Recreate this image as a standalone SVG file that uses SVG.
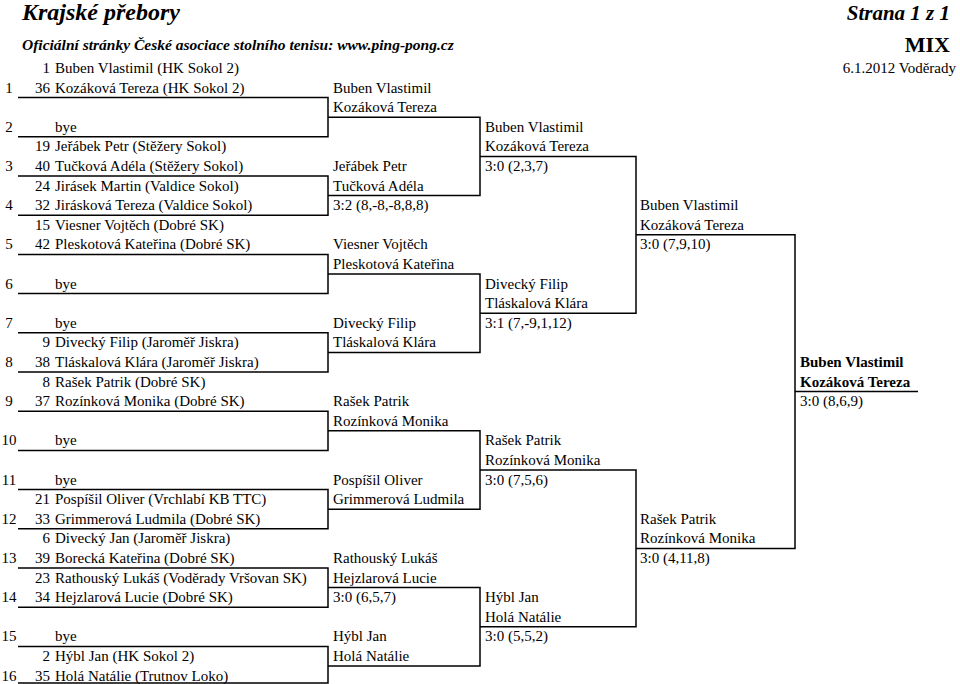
<svg xmlns="http://www.w3.org/2000/svg" width="960" height="684" viewBox="0 0 960 684">
<style>
text{font-family:"Liberation Serif","Times New Roman",serif;font-size:15px;fill:#000}
.n{text-anchor:end}.s{text-anchor:middle}.b{font-weight:bold}
.h{font-weight:bold;font-style:italic}
line,path{stroke:#000;stroke-width:1.5;fill:none}
</style>
<rect width="960" height="684" fill="#fff"/>
<g id="header">
<text x="22" y="20" class="h" style="font-size:24px">Krajské přebory</text>
<text x="22" y="50" class="h" style="font-size:15.5px">Oficiální stránky České asociace stolního tenisu: www.ping-pong.cz</text>
<text x="950" y="20" class="h n" style="font-size:21px">Strana 1 z 1</text>
<text x="950" y="52" class="b n" style="font-size:22px">MIX</text>
<text x="956" y="73" class="n">6.1.2012 Voděrady</text>
</g>
<g id="connectors">
<path d="M18 97.6H328V136.8H18M18 176H328V215.2H18M18 254.4H328V293.6H18M18 332.8H328V372H18M18 411.2H328V450.4H18M18 489.6H328V528.8H18M18 568H328V607.2H18M18 646.4H328V683H18"/>
<path d="M328 117.2H480V195.6H328M328 274H480V352.4H328M328 430.8H480V509.2H328M328 587.6H480V666H328"/>
<path d="M480 156.4H636V313.2H480M480 470H636V626.8H480"/>
<path d="M636 234.8H795V548.4H636"/>
<path d="M795 391.6H918"/>
</g>
<g id="round1">
<text x="50" y="73" class="n">1</text><text x="55" y="73">Buben Vlastimil (HK Sokol 2)</text>
<text x="9" y="92.6" class="s">1</text><text x="50" y="92.6" class="n">36</text><text x="55" y="92.6">Kozáková Tereza (HK Sokol 2)</text>
<text x="9" y="131.8" class="s">2</text><text x="55" y="131.8">bye</text>
<text x="50" y="151.4" class="n">19</text><text x="55" y="151.4">Jeřábek Petr (Stěžery Sokol)</text>
<text x="9" y="171" class="s">3</text><text x="50" y="171" class="n">40</text><text x="55" y="171">Tučková Adéla (Stěžery Sokol)</text>
<text x="50" y="190.6" class="n">24</text><text x="55" y="190.6">Jirásek Martin (Valdice Sokol)</text>
<text x="9" y="210.2" class="s">4</text><text x="50" y="210.2" class="n">32</text><text x="55" y="210.2">Jirásková Tereza (Valdice Sokol)</text>
<text x="50" y="229.8" class="n">15</text><text x="55" y="229.8">Viesner Vojtěch (Dobré SK)</text>
<text x="9" y="249.4" class="s">5</text><text x="50" y="249.4" class="n">42</text><text x="55" y="249.4">Pleskotová Kateřina (Dobré SK)</text>
<text x="9" y="288.6" class="s">6</text><text x="55" y="288.6">bye</text>
<text x="9" y="327.8" class="s">7</text><text x="55" y="327.8">bye</text>
<text x="50" y="347.4" class="n">9</text><text x="55" y="347.4">Divecký Filip (Jaroměř Jiskra)</text>
<text x="9" y="367" class="s">8</text><text x="50" y="367" class="n">38</text><text x="55" y="367">Tláskalová Klára (Jaroměř Jiskra)</text>
<text x="50" y="386.6" class="n">8</text><text x="55" y="386.6">Rašek Patrik (Dobré SK)</text>
<text x="9" y="406.2" class="s">9</text><text x="50" y="406.2" class="n">37</text><text x="55" y="406.2">Rozínková Monika (Dobré SK)</text>
<text x="9" y="445.4" class="s">10</text><text x="55" y="445.4">bye</text>
<text x="9" y="484.6" class="s">11</text><text x="55" y="484.6">bye</text>
<text x="50" y="504.2" class="n">21</text><text x="55" y="504.2">Pospíšil Oliver (Vrchlabí KB TTC)</text>
<text x="9" y="523.8" class="s">12</text><text x="50" y="523.8" class="n">33</text><text x="55" y="523.8">Grimmerová Ludmila (Dobré SK)</text>
<text x="50" y="543.4" class="n">6</text><text x="55" y="543.4">Divecký Jan (Jaroměř Jiskra)</text>
<text x="9" y="563" class="s">13</text><text x="50" y="563" class="n">39</text><text x="55" y="563">Borecká Kateřina (Dobré SK)</text>
<text x="50" y="582.6" class="n">23</text><text x="55" y="582.6">Rathouský Lukáš (Voděrady Vršovan SK)</text>
<text x="9" y="602.2" class="s">14</text><text x="50" y="602.2" class="n">34</text><text x="55" y="602.2">Hejzlarová Lucie (Dobré SK)</text>
<text x="9" y="641.4" class="s">15</text><text x="55" y="641.4">bye</text>
<text x="50" y="661" class="n">2</text><text x="55" y="661">Hýbl Jan (HK Sokol 2)</text>
<text x="9" y="680.6" class="s">16</text><text x="50" y="680.6" class="n">35</text><text x="55" y="680.6">Holá Natálie (Trutnov Loko)</text>
</g>
<g id="round2">
<text x="333" y="92.6">Buben Vlastimil</text><text x="333" y="112.2">Kozáková Tereza</text>
<text x="333" y="171">Jeřábek Petr</text><text x="333" y="190.6">Tučková Adéla</text><text x="333" y="210.2">3:2 (8,-8,-8,8,8)</text>
<text x="333" y="249.4">Viesner Vojtěch</text><text x="333" y="269">Pleskotová Kateřina</text>
<text x="333" y="327.8">Divecký Filip</text><text x="333" y="347.4">Tláskalová Klára</text>
<text x="333" y="406.2">Rašek Patrik</text><text x="333" y="425.8">Rozínková Monika</text>
<text x="333" y="484.6">Pospíšil Oliver</text><text x="333" y="504.2">Grimmerová Ludmila</text>
<text x="333" y="563">Rathouský Lukáš</text><text x="333" y="582.6">Hejzlarová Lucie</text><text x="333" y="602.2">3:0 (6,5,7)</text>
<text x="333" y="641.4">Hýbl Jan</text><text x="333" y="661">Holá Natálie</text>
</g>
<g id="round3">
<text x="485" y="131.8">Buben Vlastimil</text><text x="485" y="151.4">Kozáková Tereza</text><text x="485" y="171">3:0 (2,3,7)</text>
<text x="485" y="288.6">Divecký Filip</text><text x="485" y="308.2">Tláskalová Klára</text><text x="485" y="327.8">3:1 (7,-9,1,12)</text>
<text x="485" y="445.4">Rašek Patrik</text><text x="485" y="465">Rozínková Monika</text><text x="485" y="484.6">3:0 (7,5,6)</text>
<text x="485" y="602.2">Hýbl Jan</text><text x="485" y="621.8">Holá Natálie</text><text x="485" y="641.4">3:0 (5,5,2)</text>
</g>
<g id="round4">
<text x="640" y="210.2">Buben Vlastimil</text><text x="640" y="229.8">Kozáková Tereza</text><text x="640" y="249.4">3:0 (7,9,10)</text>
<text x="640" y="523.8">Rašek Patrik</text><text x="640" y="543.4">Rozínková Monika</text><text x="640" y="563">3:0 (4,11,8)</text>
</g>
<g id="final">
<text x="800" y="367" class="b">Buben Vlastimil</text><text x="800" y="386.6" class="b">Kozáková Tereza</text><text x="800" y="406.2">3:0 (8,6,9)</text>
</g>
</svg>
